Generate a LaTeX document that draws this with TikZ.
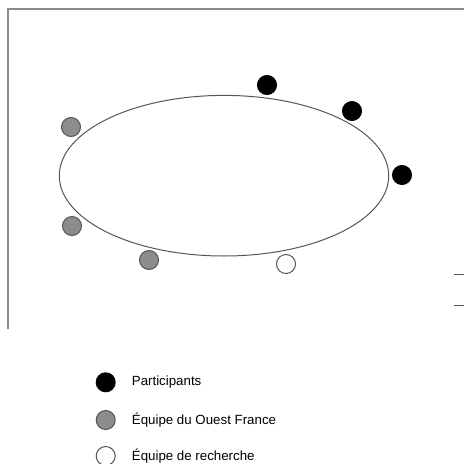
\documentclass[tikz,border=0pt]{standalone}
\usepackage{fontspec}
\setmainfont{Liberation Sans}
\usetikzlibrary{positioning,shapes.geometric}
\definecolor{EQFrame}{HTML}{8A8A8A}
\definecolor{EQLine}{HTML}{555555}
\definecolor{EQGray}{HTML}{8C8C8C}
\tikzset{
 dotbase/.style={circle,inner sep=0pt,minimum size=19pt,line width=1pt},
 partdot/.style={dotbase,draw=black,fill=black},
 ouestdot/.style={dotbase,draw=EQLine,fill=EQGray},
 rechdot/.style={dotbase,draw=EQLine,fill=white},
 legtext/.style={right=13pt of #1,font=\fontsize{13.3}{15}\selectfont,inner sep=3pt}
}
\begin{document}
\begin{tikzpicture}[x=1pt,y=-1pt]
\useasboundingbox (0,0) rectangle (464,464);
% cadre
\draw[EQFrame,line width=1.3pt] (8,329) -- (8,9) -- (464,9);
\draw[EQLine,line width=1pt] (454,274.7) -- (464,274.7);
\draw[EQLine,line width=1pt] (454,305) -- (464,305);
% ellipse
\node[draw=EQLine,line width=1pt,ellipse,inner sep=0pt,minimum width=329.4pt,minimum height=160.6pt] (ell) at (224,175.7) {};
% participants
\node[partdot] (p1) at (267,85) {};
\node[partdot] (p2) at (352,111) {};
\node[partdot] (p3) at (402,175) {};
% equipe du Ouest France
\node[ouestdot] (o1) at (71,127) {};
\node[ouestdot] (o2) at (72,226) {};
\node[ouestdot] (o3) at (149,260) {};
% equipe de recherche
\node[rechdot] (r1) at (286,264) {};
% legende
\node[partdot] (lp) at (105.7,382.3) {};
\node[ouestdot] (lo) at (105.7,420) {};
\node[rechdot] (lr) at (105.7,456) {};
\node[legtext=lp] (tp) {Participants};
\node[legtext=lo] (to) {Équipe du Ouest France};
\node[legtext=lr] (tr) {Équipe de recherche};
\end{tikzpicture}
\end{document}
